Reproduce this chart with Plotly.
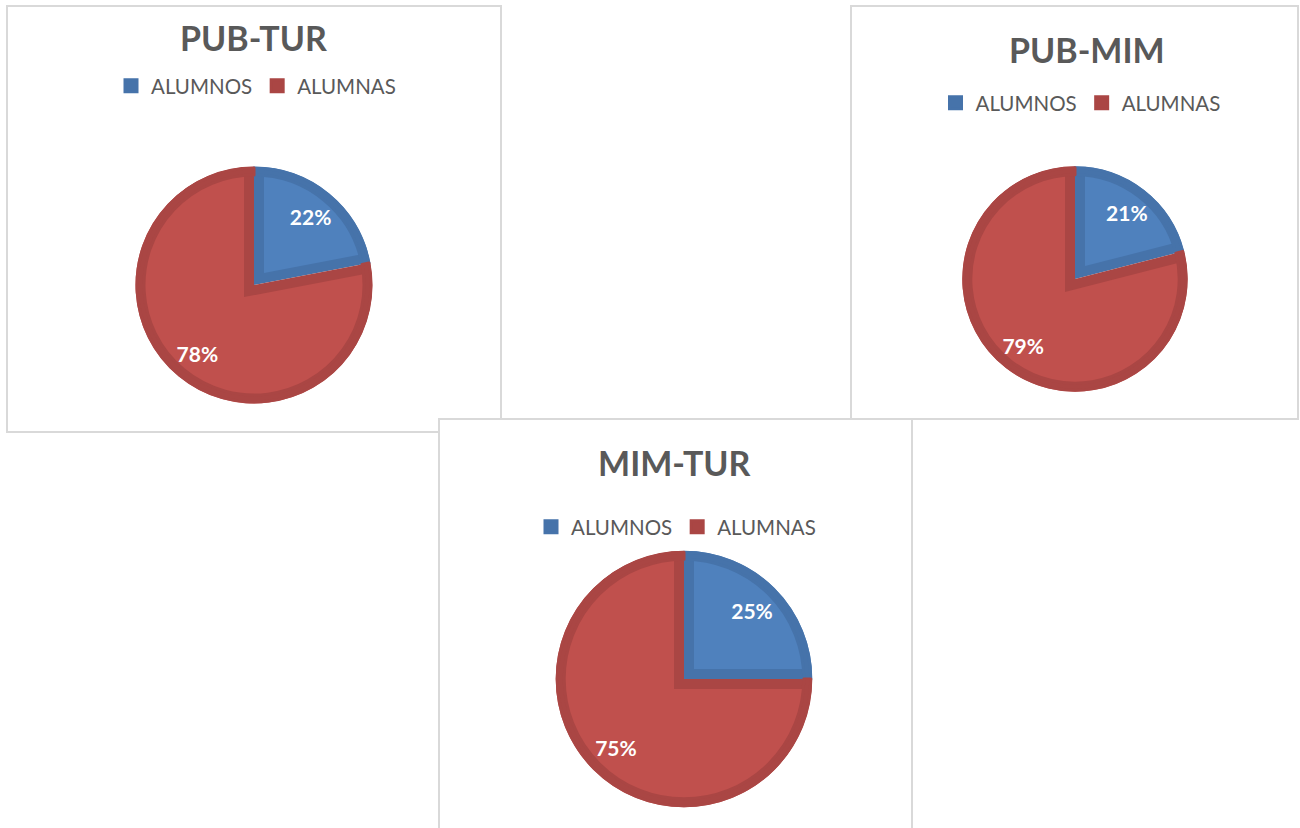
import math
import plotly.graph_objects as go

W, H = 1300, 828

# ---------------- data ----------------
chart_titles = ["PUB-TUR", "PUB-MIM", "MIM-TUR"]
labels = ["ALUMNOS", "ALUMNAS"]
alumnos_pct = [22, 21, 25]
alumnas_pct = [78, 79, 75]

# ---------------- styling / layout ----------------
fill_colors = ["#4F81BD", "#C0504D"]
edge_colors = ["#4673AA", "#AA4644"]
text_color = "#595959"
FONT = "Lato"

# pixel geometry (screen coordinates) of each chart panel
centers = [(254, 285), (1075, 279), (684, 679)]
radii = [118.5, 112.7, 128.3]
title_xy = [(253, 38), (1086.5, 49.5), (674.5, 462.5)]
legend_xy = [(256, 86), (1080.5, 103), (676, 527)]
boxes = [(7, 6, 501, 432), (851, 6, 1298, 419), (439, 419, 912, 840)]
EDGE = 10   # border thickness of slices
LW = 3      # stroke of rim trace (also enlarges legend squares)


def X(x):
    return x / W


def Y(y):
    return 1 - y / H


def dom(cx, cy, half):
    return dict(x=[X(cx - half), X(cx + half)], y=[Y(cy + half), Y(cy - half)])


fig = go.Figure()
legend_names = ["legend", "legend2", "legend3"]

for i in range(3):
    vals = [alumnos_pct[i], alumnas_pct[i]]
    cx, cy = centers[i]
    R = radii[i]
    lg = legend_names[i]
    common = dict(labels=labels, values=vals, sort=False, direction="clockwise",
                  rotation=0, hoverinfo="skip", legend=lg, legendgroup="g%d" % i)

    # 1) full disc in the edge colours
    fig.add_trace(go.Pie(domain=dom(cx, cy, R), marker=dict(colors=edge_colors, line=dict(width=0)),
                         textinfo="none", showlegend=False, **common))

    # 2) inset slices in fill colours (pulled so radial edges are inset by EDGE)
    alpha = math.pi * vals[0] / sum(vals)
    s = EDGE / math.sin(alpha)
    r2 = R - EDGE + s * abs(math.cos(alpha)) + 1
    p = s / r2
    half2 = r2 + s
    fig.add_trace(go.Pie(domain=dom(cx, cy, half2), pull=[p, p],
                         marker=dict(colors=fill_colors, line=dict(width=0)),
                         textinfo="none", showlegend=False, **common))

    # 3) white ring hiding the overflow of the pulled slices
    Rw = half2 + 2
    fig.add_trace(go.Pie(domain=dom(cx, cy, Rw), hole=R / Rw,
                         marker=dict(colors=["white", "white"], line=dict(width=0)),
                         textinfo="none", showlegend=False, **common))

    # 4) outer rim in edge colours (carries the legend)
    Rr = R - LW / 2
    fig.add_trace(go.Pie(domain=dom(cx, cy, Rr), hole=(R - EDGE + LW / 2) / Rr,
                         marker=dict(colors=edge_colors, line=dict(width=LW, color=edge_colors)),
                         textinfo="none", showlegend=True, **common))

    # 5) percentage labels, centred in a ring at ~3/4 of the radius
    fig.add_trace(go.Pie(domain=dom(cx, cy, R), hole=0.5,
                         marker=dict(colors=["rgba(0,0,0,0)"] * 2, line=dict(width=0)),
                         texttemplate="%{percent:.0%}", textposition="inside",
                         insidetextorientation="horizontal",
                         textfont=dict(family=FONT, size=21, color="white", weight="bold"),
                         showlegend=False, **common))

shapes = []
for (x0, y0, x1, y1) in boxes:
    shapes.append(dict(type="rect", xref="paper", yref="paper",
                       x0=X(x0), x1=X(x1), y0=Y(y1), y1=Y(y0),
                       line=dict(color="#D9D9D9", width=2), fillcolor="white", layer="below"))

annotations = []
for i in range(3):
    tx, ty = title_xy[i]
    annotations.append(dict(text=chart_titles[i], x=X(tx), y=Y(ty), xref="paper", yref="paper",
                            xanchor="center", yanchor="middle", showarrow=False,
                            font=dict(family=FONT, size=34, color=text_color, weight="bold")))

layout_legends = {}
for i in range(3):
    lx, ly = legend_xy[i]
    layout_legends[legend_names[i]] = dict(
        orientation="h", traceorder="normal", x=X(lx), y=Y(ly), xanchor="center", yanchor="middle",
        font=dict(family=FONT, size=20.5, color=text_color), bgcolor="rgba(0,0,0,0)",
        itemclick=False, itemdoubleclick=False)

fig.update_layout(width=W, height=H, margin=dict(l=0, r=0, t=0, b=0),
                  paper_bgcolor="white", plot_bgcolor="white",
                  shapes=shapes, annotations=annotations, **layout_legends)

# remove the default 8px page margin so the 1300x828 figure fills the window exactly
fig.write_html("out.html", config={"displayModeBar": False},
               post_script="document.body.style.margin='0px';")
